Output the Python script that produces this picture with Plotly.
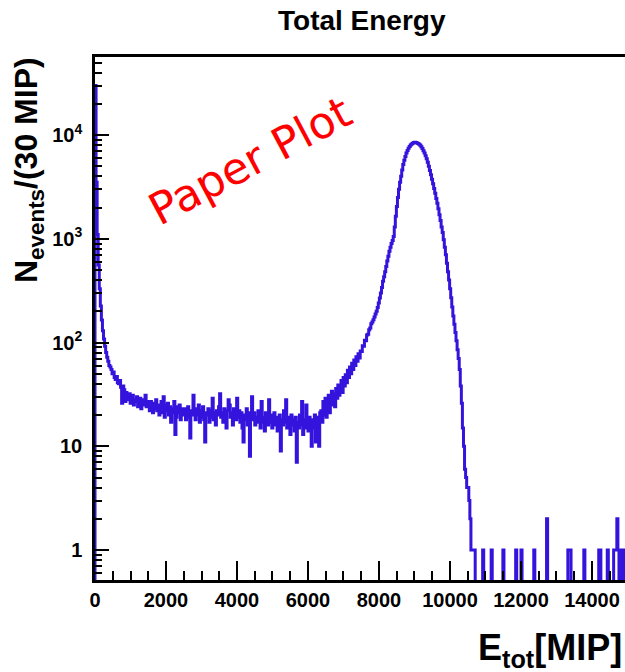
import plotly.graph_objects as go

# ---------------- data ----------------
bin_width = 30          # MIP per bin
n_bins = 500            # 0 .. 15000 MIP

# counts per 30-MIP bin, bins 0..356
counts = [
    30000, 3500, 1100, 560, 330, 225, 165, 130, 108, 92, 80, 72, 66, 60, 58, 55, 50, 52, 46, 44,
    47, 41, 40, 43, 37, 26, 38, 35, 27, 33, 30, 28, 32, 26, 29, 31, 25, 28, 27, 30,
    24, 27, 29, 23, 26, 28, 25, 31, 24, 27, 25, 22, 27, 24, 21, 26, 23, 28, 22, 25,
    20, 24, 27, 21, 30, 19, 25, 22, 26, 20, 24, 17, 23, 21, 27, 13, 19, 24, 21, 25,
    18, 23, 22, 20, 23, 18, 21, 24, 19, 12, 22, 20, 31, 21, 18, 23, 20, 25, 17, 22,
    19, 24, 18, 11, 21, 20, 23, 17, 22, 19, 29, 18, 21, 16, 22, 20, 24, 32, 19, 21,
    17, 23, 20, 15, 22, 28, 25, 19, 21, 16, 23, 20, 18, 29, 19, 22, 17, 21, 15, 11,
    20, 18, 23, 16, 21, 8, 19, 30, 18, 21, 16, 19, 17, 22, 18, 15, 27, 17, 19, 14,
    21, 18, 16, 28, 17, 20, 15, 18, 21, 16, 19, 14, 17, 20, 9, 18, 16, 22, 17, 28,
    15, 19, 17, 13, 20, 16, 18, 14, 19, 7, 17, 15, 20, 16, 27, 13, 18, 15, 25, 17,
    14, 19, 16, 10, 18, 15, 20, 11, 17, 19, 10, 21, 22, 17, 27, 20, 29, 19, 26, 31,
    21, 28, 34, 25, 32, 24, 36, 29, 39, 31, 37, 43, 33, 46, 38, 49, 41, 54, 46, 58,
    50, 63, 55, 68, 60, 73, 66, 78, 71, 83, 82, 93, 92, 105, 104, 118, 120, 133, 138, 152,
    158, 166, 176, 188, 200, 218, 240, 268, 300, 340, 390, 430, 480, 540, 610, 680, 760, 830, 900, 960,
    1050, 1300, 1650, 2050, 2500, 3000, 3500, 4000, 4600, 5200, 5700, 6200, 6700, 7100, 7450, 7750, 8000, 8200, 8350, 8450,
    8500, 8480, 8400, 8300, 8150, 7950, 7700, 7400, 7050, 6700, 6300, 5900, 5450, 5000, 4550, 4150, 3750, 3400, 3050, 2750,
    2450, 2200, 1950, 1700, 1500, 1300, 1150, 980, 830, 700, 580, 480, 400, 330, 270, 220, 180, 150, 125, 104,
    85, 70, 55, 38, 26, 15, 10, 6, 5, 4, 4, 3, 2, 1, 1, 1, 1,
]
# sparse high-energy tail (all other bins are empty)
tail_bins = [364, 372, 383, 395, 400, 412, 424, 444, 445, 446, 459, 473, 474, 481,
             487, 488, 489, 490, 491, 493, 494, 496, 497]
tail_counts = [1, 1, 1, 1, 1, 1, 2, 1, 1, 1, 1, 1, 1, 1,
               1, 1, 1, 2, 1, 1, 1, 1, 1]

x_range = [0, 14930]
y_range_log = [-0.289, 4.752]
x_major_step = 2000
x_minor_step = 500
y_tick_vals = [1, 10, 100, 1000, 10000]
y_tick_text = ["1", "10", "10<sup>2</sup>", "10<sup>3</sup>", "10<sup>4</sup>"]
y_minor_vals = [m * 10 ** e for e in range(-1, 5) for m in range(2, 10)]

title_text = "Total Energy"
x_title = "E<sub>tot</sub>[MIP]"
y_title = "N<sub>events</sub>/(30 MIP)"
stamp_text = "Paper Plot"

# ---------------- build histogram outline ----------------
all_counts = counts + [0] * (n_bins - len(counts))
for b, c in zip(tail_bins, tail_counts):
    all_counts[b] = c

FLOOR = 1e-2   # empty bins drawn below the visible range (like ROOT)
disp = [c if c > 0 else FLOOR for c in all_counts]
xs = [0] + [i * bin_width for i in range(n_bins)] + [n_bins * bin_width, n_bins * bin_width]
ys = [FLOOR] + disp + [disp[-1], FLOOR]

W, H = 625, 672
L, R, T, B = 95, 625, 57, 580


def px(x):
    return (x - L) / (R - L)


def py(y):
    return (B - y) / (B - T)


FONT = "Liberation Sans"
BLUE = "#3414dc"

fig = go.Figure()
fig.add_trace(go.Scatter(
    x=xs, y=ys, mode="lines", line=dict(color=BLUE, width=3, shape="hv"),
    hoverinfo="skip", showlegend=False,
))

fig.update_layout(
    width=W, height=H,
    margin=dict(l=L, r=W - R, t=T, b=H - B, autoexpand=False),
    paper_bgcolor="white", plot_bgcolor="white",
    showlegend=False,
)

fig.update_xaxes(
    range=x_range, tickmode="linear", tick0=0, dtick=x_major_step, tickformat="d",
    ticks="inside", ticklen=19, tickwidth=1.5, tickcolor="black",
    showline=True, linewidth=2.5, linecolor="black", mirror=True,
    showgrid=False, zeroline=False, automargin=False,
    tickfont=dict(family=FONT, size=20, color="black", weight="bold"),
    ticklabelstandoff=0,
    minor=dict(tick0=0, dtick=x_minor_step, ticks="inside", ticklen=9,
               tickwidth=1.5, tickcolor="black", showgrid=False),
)
fig.update_yaxes(
    type="log", range=y_range_log,
    tickmode="array", tickvals=y_tick_vals, ticktext=y_tick_text,
    ticks="inside", ticklen=14, tickwidth=1.5, tickcolor="black",
    showline=True, linewidth=2.5, linecolor="black", mirror=False,
    showgrid=False, zeroline=False, automargin=False,
    tickfont=dict(family=FONT, size=20, color="black", weight="bold"),
    ticklabelstandoff=6,
    minor=dict(tickmode="array", tickvals=y_minor_vals, ticks="inside", ticklen=7,
               tickwidth=1.5, tickcolor="black", showgrid=False),
)

fig.add_annotation(
    text=title_text, xref="paper", yref="paper", x=px(362), y=py(21),
    xanchor="center", yanchor="middle", showarrow=False,
    font=dict(family=FONT, size=28, color="black", weight="bold"),
)
fig.add_annotation(
    text=x_title, xref="paper", yref="paper", x=px(624), y=py(650),
    xanchor="right", yanchor="middle", showarrow=False,
    font=dict(family=FONT, size=36, color="black", weight="bold"),
)
fig.add_annotation(
    text=y_title, xref="paper", yref="paper", x=px(28), y=py(170),
    xanchor="center", yanchor="middle", showarrow=False, textangle=-90,
    font=dict(family=FONT, size=32, color="black", weight="bold"),
)
fig.add_annotation(
    text=stamp_text, xref="paper", yref="paper", x=px(250), y=py(160),
    xanchor="center", yanchor="middle", showarrow=False, textangle=-28,
    font=dict(family="DejaVu Sans", size=44, color="red"),
)

fig.write_html("out.html", config={"displayModeBar": False},
               post_script="document.body.style.margin='0';")
